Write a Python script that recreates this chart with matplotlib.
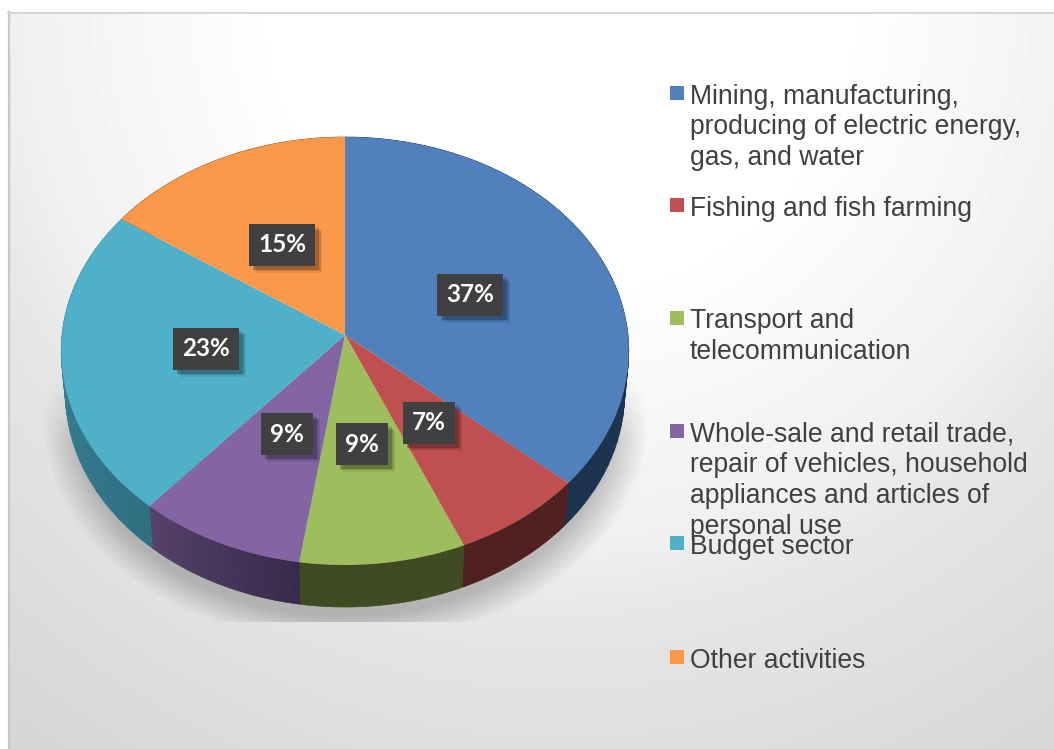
import numpy as np
import matplotlib
matplotlib.use('Agg')
from matplotlib import patheffects as pe
from matplotlib import pyplot as plt
from matplotlib.patches import Rectangle
from matplotlib.transforms import Transform

sectors = ["Mining, manufacturing,\nproducing of electric energy,\ngas, and water",
           "Fishing and fish farming",
           "Transport and\ntelecommunication",
           "Whole-sale and retail trade,\nrepair of vehicles, household\nappliances and articles of\npersonal use",
           "Budget sector",
           "Other activities"]
shares = [36.5, 7.1, 8.8, 8.9, 23.3, 15.4]
share_labels = ["37%", "7%", "9%", "9%", "23%", "15%"]
colours = ["#5081bd", "#c0504f", "#9ebd5d", "#8465a3", "#4fb0ca", "#fb984a"]
side_start = ["#1c3350", "#4f1f1f", "#3f4a20", "#39294a", "#2f6f80", "#8a5020"]
side_end = ["#1c3350", "#4f1f1f", "#3f4a20", "#55406a", "#3a8ca5", "#8a5020"]

W, H = 1054, 749
label_pos = [(470, 295), (429, 423), (362, 444), (287, 434), (206, 349), (282, 245)]
key_y = [103.5, 215.5, 328.5, 441.5, 553.5, 667.5]
line_step = 30.7


class TiltMap(Transform):
    # unit circle -> tilted disc in pixel coords, apex stays off the ellipse centre
    input_dims = 2
    output_dims = 2

    def __init__(self, drop=0, squeeze=1.0):
        super().__init__()
        self.drop = drop
        self.squeeze = squeeze

    def transform_non_affine(self, values):
        u, v = values[:, 0], values[:, 1]
        w = 1 + 0.0748 * v
        return np.column_stack((345 + self.squeeze * 283 * u / w,
                                335 + self.drop - 212.8 * v / w))


fig = plt.figure(figsize=(W / 100, H / 100), dpi=100)
ax = fig.add_axes([0, 0, 1, 1])

# page background
yy, xx = np.mgrid[13:H, 9:W]
r = np.hypot(xx - 560, yy)
grey = np.interp(r, [280, 540, 620, 900, 1000], [255, 240, 230, 214, 210]) / 255
ax.imshow(grey, extent=(9, W, H, 13), cmap="gray", vmin=0, vmax=1, aspect="auto", zorder=0)
ax.plot([8.5, 8.5], [12, H], color="#c8c8c8", lw=1.6, zorder=1)
ax.plot([8, W], [12.5, 12.5], color="#d0d0d0", lw=1.2, zorder=1)

# soft shadow under the disc, cut off flat at the bottom
rho = np.hypot((xx - 345) / 292, (yy - 420) / 215)
alpha = np.clip((1.04 - rho) / 0.13, 0, 1) * np.clip((yy - 370) / 70, 0, 1) * 0.22
alpha[yy > 621] = 0
shade = np.zeros(alpha.shape + (4,))
shade[..., 3] = alpha
ax.imshow(shade, extent=(9, W, H, 13), aspect="auto", zorder=2)

wedges, _ = ax.pie(shares, colors=colours, startangle=90, counterclock=False,
                   wedgeprops={"transform": TiltMap() + ax.transData, "zorder": 5})

# side wall of each slice
top_map = TiltMap()
low_map = TiltMap(drop=42, squeeze=0.985)
for w, c0, c1 in zip(wedges, side_start, side_end):
    angles = np.radians(np.linspace(w.theta2, w.theta1, 61))
    ring = np.column_stack((np.cos(angles), np.sin(angles)))
    upper = top_map.transform(ring)
    lower = low_map.transform(ring)
    c0 = np.array(matplotlib.colors.to_rgb(c0))
    c1 = np.array(matplotlib.colors.to_rgb(c1))
    for i in range(60):
        col = c0 + (c1 - c0) * i / 59
        ax.fill([upper[i, 0], upper[i + 1, 0], lower[i + 1, 0], lower[i, 0]],
                [upper[i, 1], upper[i + 1, 1], lower[i + 1, 1], lower[i, 1]],
                color=col, lw=0.5, zorder=4)

# data labels
for (x, y), lab in zip(label_pos, share_labels):
    t = ax.text(x, y, lab, color="white", fontsize=17.5, fontweight="bold", family="Lato",
                ha="center", va="center", zorder=7,
                bbox=dict(boxstyle="square,pad=0.38", facecolor="#404040", edgecolor="none"))
    t.get_bbox_patch().set_path_effects([
        pe.SimplePatchShadow(offset=(5, -5), shadow_rgbFace="black", alpha=0.08),
        pe.SimplePatchShadow(offset=(4, -4), shadow_rgbFace="black", alpha=0.12),
        pe.SimplePatchShadow(offset=(3, -3), shadow_rgbFace="black", alpha=0.2),
        pe.Normal()])

# legend, laid out by hand because the last entries overlap in the original
for name, col, y0 in zip(sectors, colours, key_y):
    ax.add_patch(Rectangle((670, y0 - 17.5), 14, 14, facecolor=col, edgecolor="none", zorder=6))
    for j, line in enumerate(name.split("\n")):
        ax.text(690, y0 + j * line_step, line, color="#404040", fontsize=19.1,
                family="Liberation Sans", va="baseline", zorder=6)

ax.set_aspect("auto")
ax.set_xlim(0, W)
ax.set_ylim(H, 0)
ax.axis("off")
fig.savefig("out.png", dpi=100, facecolor="white")
